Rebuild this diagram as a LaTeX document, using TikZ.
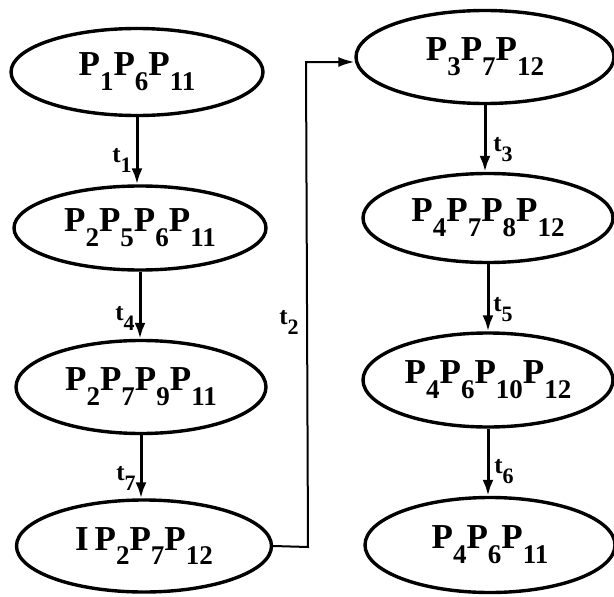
\documentclass[tikz,border=0pt]{standalone}
\usepackage{fontspec}
\setmainfont{Liberation Serif}
\usetikzlibrary{shapes.geometric,arrows.meta}
\newcommand{\Pn}[1]{P\raisebox{-0.42em}{\fontsize{27}{27}\selectfont #1}}
\newcommand{\Tn}[1]{t\raisebox{-0.4em}{\fontsize{22}{22}\selectfont #1}}
\begin{document}
\begin{tikzpicture}[x=1pt,y=-1pt,
  state/.style={draw, line width=3.4pt, ellipse, inner sep=0pt,
     font=\fontsize{35}{40}\selectfont\bfseries},
  arr/.style={line width=3pt, -{Latex[length=16pt,width=11pt]}},
  thin arr/.style={line width=2pt, -{Latex[length=16pt,width=10pt]}},
  lab/.style={font=\fontsize{25}{28}\selectfont\bfseries, inner sep=0pt}]
\useasboundingbox (0,0) rectangle (614,597);
\node[state, minimum width=252pt, minimum height=87pt] (n1) at (137,72) {\Pn{1}\Pn{6}\Pn{11}};
\node[state, minimum width=252pt, minimum height=84pt] (n2) at (140,228) {\Pn{2}\Pn{5}\Pn{6}\Pn{11}};
\node[state, minimum width=250pt, minimum height=93pt] (n3) at (141,387) {\Pn{2}\Pn{7}\Pn{9}\Pn{11}};
\node[state, minimum width=255pt, minimum height=92pt] (n4) at (144,546) {I\,\Pn{2}\Pn{7}\Pn{12}};
\node[state, minimum width=258pt, minimum height=93pt] (n5) at (485,57) {\Pn{3}\Pn{7}\Pn{12}};
\node[state, minimum width=250pt, minimum height=89pt] (n6) at (488,218) {\Pn{4}\Pn{7}\Pn{8}\Pn{12}};
\node[state, minimum width=250pt, minimum height=94pt] (n7) at (488,380) {\Pn{4}\Pn{6}\Pn{10}\Pn{12}};
\node[state, minimum width=250pt, minimum height=95pt] (n8) at (490,545) {\Pn{4}\Pn{6}\Pn{11}};
\draw[arr] (n1.south) -- (n1.south |- n2.north);
\draw[arr] (n2.south) -- (n2.south |- n3.north);
\draw[arr] (n3.south) -- (n3.south |- n4.north);
\draw[arr] (n5.south) -- (n5.south |- n6.north);
\draw[arr] (n6.south) -- (n6.south |- n7.north);
\draw[arr] (n7.south) -- (n7.south |- n8.north);
\coordinate (c) at (308,547);
\coordinate (c2) at (306,62);
\draw[thin arr] (n4.east) -- (c) -- (c2) -- (n5.west |- c2);
\node[lab] (l1) at (122,160) {\Tn{1}};
\node[lab] (l4) at (125,318) {\Tn{4}};
\node[lab] (l7) at (126,478) {\Tn{7}};
\node[lab] (l2) at (289,322) {\Tn{2}};
\node[lab] (l3) at (503,150) {\Tn{3}};
\node[lab] (l5) at (503,310) {\Tn{5}};
\node[lab] (l6) at (504,472) {\Tn{6}};
\end{tikzpicture}
\end{document}
